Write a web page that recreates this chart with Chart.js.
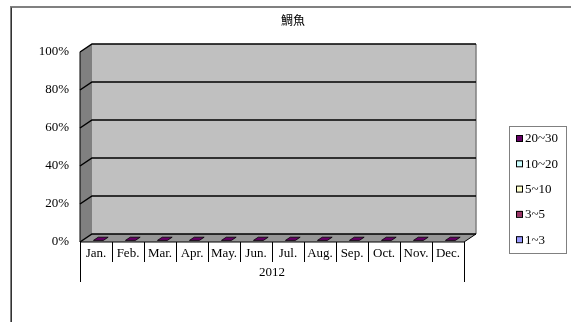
<!DOCTYPE html>
<html>
<head>
<meta charset="utf-8">
<script src="https://cdn.jsdelivr.net/npm/chart.js@4"></script>
<style>
    html, body { margin: 0; padding: 0; background: #fff; }
    #wrap { width: 571px; height: 322px; }
</style>
</head>
<body>
<div id="wrap"><canvas id="chart"></canvas></div>
<script>
// data (every month sits at 0)
const months = ["Jan.", "Feb.", "Mar.", "Apr.", "May.", "Jun.", "Jul.", "Aug.", "Sep.", "Oct.", "Nov.", "Dec."];
const yearLabel = "2012";
const chartTitle = "鯛魚";
const size1to3 = [0, 0, 0, 0, 0, 0, 0, 0, 0, 0, 0, 0];
const size3to5 = [0, 0, 0, 0, 0, 0, 0, 0, 0, 0, 0, 0];
const size5to10 = [0, 0, 0, 0, 0, 0, 0, 0, 0, 0, 0, 0];
const size10to20 = [0, 0, 0, 0, 0, 0, 0, 0, 0, 0, 0, 0];
const size20to30 = [0, 0, 0, 0, 0, 0, 0, 0, 0, 0, 0, 0];
const seriesLabels = ["1~3", "3~5", "5~10", "10~20", "20~30"];
const seriesColors = ["#9999FF", "#993366", "#FFFFCC", "#CCFFFF", "#660066"];

const FONT = "'Liberation Serif', serif";
const DX = 12; // depth of the 3d box
const DY = 8;

var threeD = {
    id: "threeD",
    beforeDraw: function (chart) {
        const ctx = chart.ctx;
        const a = chart.chartArea;
        const ys = chart.scales.y;
        ctx.save();
        ctx.fillStyle = "#fff";
        ctx.fillRect(0, 0, chart.width, chart.height);

        // chart area border (left + top only visible)
        ctx.strokeStyle = "#808080";
        ctx.lineWidth = 2;
        ctx.beginPath();
        ctx.moveTo(11, chart.height);
        ctx.lineTo(11, 7);
        ctx.lineTo(chart.width, 7);
        ctx.stroke();
        ctx.strokeStyle = "#333";
        ctx.lineWidth = 1;
        ctx.beginPath();
        ctx.moveTo(11.5, chart.height);
        ctx.lineTo(11.5, 7.5);
        ctx.stroke();

        const top = ys.getPixelForValue(100);
        const bot = ys.getPixelForValue(0);

        // back wall
        ctx.fillStyle = "#C0C0C0";
        ctx.fillRect(a.left + DX, top - DY, a.right - a.left, bot - top);
        // left wall
        ctx.fillStyle = "#808080";
        ctx.beginPath();
        ctx.moveTo(a.left, top);
        ctx.lineTo(a.left + DX, top - DY);
        ctx.lineTo(a.left + DX, bot - DY);
        ctx.lineTo(a.left, bot);
        ctx.closePath();
        ctx.fill();
        // floor
        ctx.fillStyle = "#969696";
        ctx.beginPath();
        ctx.moveTo(a.left, bot);
        ctx.lineTo(a.left + DX, bot - DY);
        ctx.lineTo(a.right + DX, bot - DY);
        ctx.lineTo(a.right, bot);
        ctx.closePath();
        ctx.fill();

        // right edge of back wall
        ctx.strokeStyle = "#808080";
        ctx.lineWidth = 1.5;
        ctx.beginPath();
        ctx.moveTo(a.right + DX, top - DY);
        ctx.lineTo(a.right + DX, bot - DY);
        ctx.stroke();

        // gridlines on walls
        ctx.strokeStyle = "#000";
        ctx.lineWidth = 1.5;
        ys.ticks.forEach(function (t) {
            const y = ys.getPixelForValue(t.value);
            ctx.beginPath();
            ctx.moveTo(a.left, y);
            ctx.lineTo(a.left + DX, y - DY);
            ctx.lineTo(a.right + DX, y - DY);
            ctx.stroke();
        });

        // front edges of the box
        ctx.lineWidth = 1;
        ctx.beginPath();
        ctx.moveTo(a.left, top);
        ctx.lineTo(a.left, bot);
        ctx.lineTo(a.right, bot);
        ctx.lineTo(a.right + DX, bot - DY);
        ctx.stroke();
        ctx.restore();
    },
    afterDatasetsDraw: function (chart) {
        const ctx = chart.ctx;
        const last = chart.data.datasets.length - 1;
        const meta = chart.getDatasetMeta(last);
        const f1 = 0.2, f2 = 0.6;
        ctx.save();
        ctx.fillStyle = chart.data.datasets[last].backgroundColor;
        ctx.strokeStyle = "#000";
        ctx.lineWidth = 0.8;
        meta.data.forEach(function (el) {
            const hw = el.width / 2;
            ctx.beginPath();
            ctx.moveTo(el.x - hw + DX * f1, el.y - DY * f1);
            ctx.lineTo(el.x + hw + DX * f1, el.y - DY * f1);
            ctx.lineTo(el.x + hw + DX * f2, el.y - DY * f2);
            ctx.lineTo(el.x - hw + DX * f2, el.y - DY * f2);
            ctx.closePath();
            ctx.fill();
            ctx.stroke();
        });
        ctx.restore();
    },
    afterDraw: function (chart) {
        const ctx = chart.ctx;
        const a = chart.chartArea;
        const xs = chart.scales.x;
        ctx.save();

        // category dividers under the axis
        const step = (a.right - a.left) / months.length;
        ctx.strokeStyle = "#000";
        ctx.lineWidth = 1;
        for (let i = 0; i <= months.length; i++) {
            const x = Math.round(xs.getPixelForValue(i) - step / 2) + 0.5;
            const yEnd = (i === 0 || i === months.length) ? a.bottom + 40 : a.bottom + 20;
            ctx.beginPath();
            ctx.moveTo(x, a.bottom);
            ctx.lineTo(x, yEnd);
            ctx.stroke();
        }

        ctx.fillStyle = "#000";
        ctx.font = "13px " + FONT;
        ctx.textAlign = "center";
        ctx.textBaseline = "middle";
        ctx.fillText(yearLabel, (a.left + a.right) / 2, a.bottom + 31);

        // title
        ctx.font = "12px 'Noto Sans CJK TC'";
        ctx.fillText(chartTitle, 293, 20);

        // legend (top entry = last series)
        ctx.strokeStyle = "#808080";
        ctx.strokeRect(509.5, 126.5, 57, 127);
        ctx.textAlign = "left";
        ctx.font = "13px " + FONT;
        const n = chart.data.datasets.length;
        for (let k = 0; k < n; k++) {
            const ds = chart.data.datasets[n - 1 - k];
            const y = 138 + k * 25.3;
            ctx.fillStyle = ds.backgroundColor;
            ctx.fillRect(516, y - 3, 6, 6);
            ctx.strokeStyle = "#000";
            ctx.strokeRect(516.5, y - 2.5, 6, 6);
            ctx.fillStyle = "#000";
            ctx.fillText(ds.label, 525, y + 1);
        }
        ctx.restore();
    },
};

const seriesData = [size1to3, size3to5, size5to10, size10to20, size20to30];

new Chart("chart", {
    type: "bar",
    data: {
        labels: months,
        datasets: seriesData.map(function (d, i) {
            return {
                label: seriesLabels[i],
                data: d,
                backgroundColor: seriesColors[i],
                borderWidth: 0,
                categoryPercentage: 0.62,
                barPercentage: 0.5,
            };
        }),
    },
    options: {
        responsive: true,
        maintainAspectRatio: false,
        animation: false,
        layout: {
            padding: { top: 52, right: 107, bottom: 0, left: 0 },
        },
        plugins: {
            legend: { display: false },
            title: { display: false },
            tooltip: { enabled: false },
        },
        scales: {
            x: {
                stacked: true,
                grid: { display: false, drawTicks: false },
                border: { display: false },
                ticks: {
                    color: "#000",
                    font: { family: FONT, size: 13 },
                    padding: 4,
                    maxRotation: 0,
                    autoSkip: false,
                },
                afterFit: function (scale) {
                    scale.height = 80;
                },
            },
            y: {
                stacked: true,
                min: 0,
                max: 100,
                grid: { display: false, drawTicks: false },
                border: { display: false },
                ticks: {
                    stepSize: 20,
                    color: "#000",
                    font: { family: FONT, size: 13 },
                    padding: 11,
                    callback: function (v) {
                        return v + "%";
                    },
                },
                afterFit: function (scale) {
                    scale.width = 80;
                },
            },
        },
    },
    plugins: [threeD],
});
</script>
</body>
</html>
